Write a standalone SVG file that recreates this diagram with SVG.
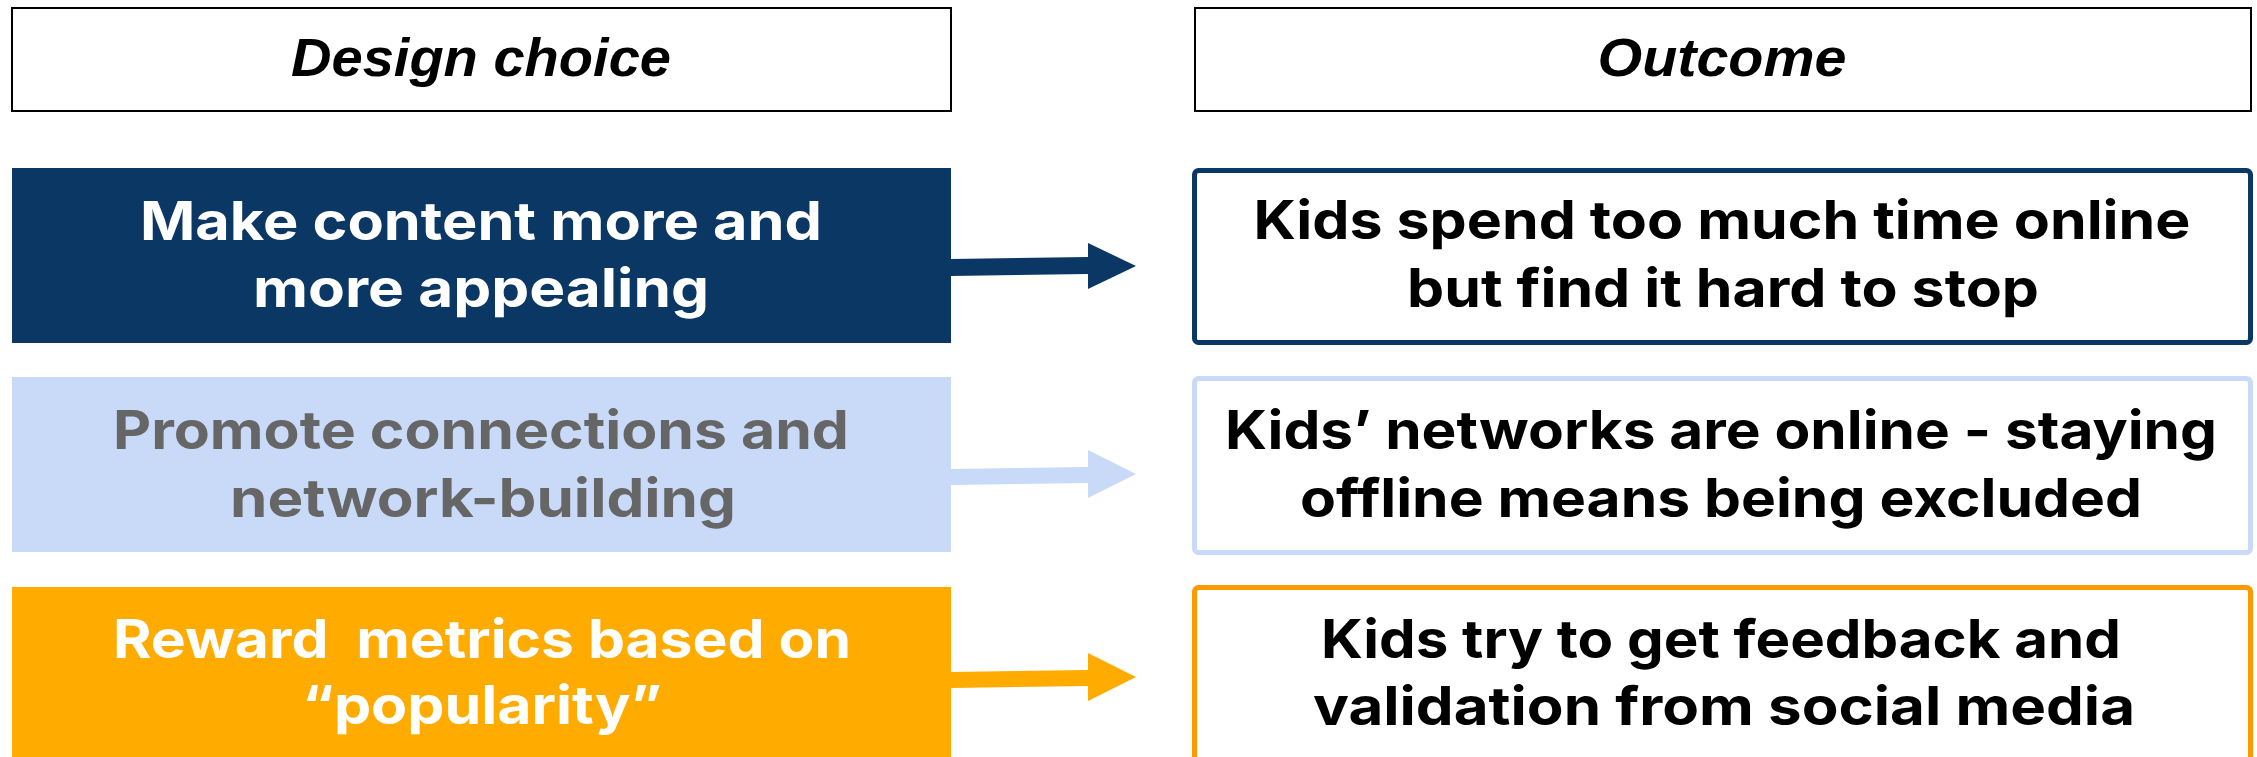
<svg xmlns="http://www.w3.org/2000/svg" width="2257" height="757" viewBox="0 0 2257 757">
<style>
.hdr{fill:#fff;stroke:#000;stroke-width:2}
.htxt{font-family:"Liberation Sans",Arial,sans-serif;font-weight:700;font-style:italic;font-size:53px;fill:#000;text-anchor:middle}
.txt{font-family:Inter,"Noto Sans",sans-serif;font-weight:700;font-size:53px;text-anchor:middle;white-space:pre}
.w{fill:#fff}.g{fill:#666666}.k{fill:#000}
.out{fill:#fff;stroke-width:5}
</style>
<rect width="2257" height="757" fill="#fff"/>
<g id="header-design">
<rect class="hdr" x="12" y="8" width="939" height="103"/>
<text class="htxt" x="481" y="76" textLength="380" lengthAdjust="spacingAndGlyphs">Design choice</text>
</g>
<g id="header-outcome">
<rect class="hdr" x="1195" y="8" width="1056" height="103"/>
<text class="htxt" x="1722" y="76" textLength="249" lengthAdjust="spacingAndGlyphs">Outcome</text>
</g>
<g id="choice-1">
<rect x="12" y="168" width="939" height="175" fill="#0a3763"/>
<text class="txt w" x="481" y="240" textLength="682" lengthAdjust="spacingAndGlyphs">Make content more and</text>
<text class="txt w" x="481" y="307" textLength="456" lengthAdjust="spacingAndGlyphs">more appealing</text>
</g>
<g id="choice-2">
<rect x="12" y="377" width="939" height="175" fill="#c9daf8"/>
<text class="txt g" x="481" y="449" textLength="736" lengthAdjust="spacingAndGlyphs">Promote connections and</text>
<text class="txt g" x="483" y="517" textLength="506" lengthAdjust="spacingAndGlyphs">network-building</text>
</g>
<g id="choice-3">
<rect x="12" y="587" width="939" height="175" fill="#ffab00"/>
<text class="txt w" x="482" y="658" textLength="738" lengthAdjust="spacingAndGlyphs" xml:space="preserve">Reward  metrics based on</text>
<text class="txt w" x="482" y="724" textLength="360" lengthAdjust="spacingAndGlyphs">“popularity”</text>
</g>
<g id="outcome-1">
<rect class="out" x="1194.5" y="170.5" width="1056" height="172" rx="4" stroke="#0a3763"/>
<text class="txt k" x="1722" y="239" textLength="937" lengthAdjust="spacingAndGlyphs">Kids spend too much time online</text>
<text class="txt k" x="1723" y="307" textLength="632" lengthAdjust="spacingAndGlyphs">but find it hard to stop</text>
</g>
<g id="outcome-2">
<rect class="out" x="1194.5" y="378.5" width="1056" height="174" rx="4" stroke="#c9daf8"/>
<text class="txt k" x="1721" y="449" textLength="992" lengthAdjust="spacingAndGlyphs">Kids’ networks are online - staying</text>
<text class="txt k" x="1721" y="517" textLength="842" lengthAdjust="spacingAndGlyphs">offline means being excluded</text>
</g>
<g id="outcome-3">
<rect class="out" x="1194.5" y="587.5" width="1056" height="180" rx="4" stroke="#ff9900"/>
<text class="txt k" x="1721" y="658" textLength="800" lengthAdjust="spacingAndGlyphs">Kids try to get feedback and</text>
<text class="txt k" x="1724" y="725" textLength="822" lengthAdjust="spacingAndGlyphs">validation from social media</text>
</g>
<g id="connectors">
<polygon points="951,259 1088,257 1088,243 1136,266 1088,289 1088,274 951,276" fill="#0a3763"/>
<polygon points="951,469 1088,467 1088,450 1136,474 1088,498 1088,483 951,485" fill="#c9daf8"/>
<polygon points="951,672 1088,670 1088,653 1136,677 1088,701 1088,686 951,688" fill="#ffab00"/>
</g>
</svg>
